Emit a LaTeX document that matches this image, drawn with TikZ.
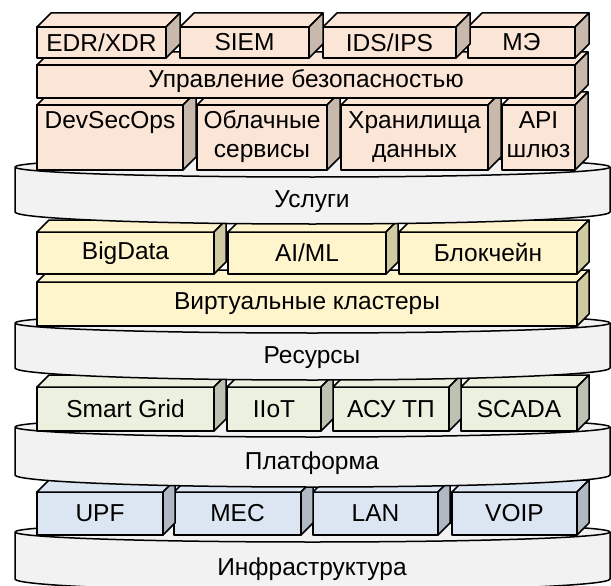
\documentclass[tikz,border=0pt]{standalone}
\usepackage{fontspec}
\setmainfont{Liberation Sans}
\definecolor{pkF}{HTML}{FBE5D6}
\definecolor{pkS}{HTML}{C9B8AC}
\definecolor{ylF}{HTML}{FFF5CD}
\definecolor{ylS}{HTML}{CFCAA2}
\definecolor{grF}{HTML}{EBF1DE}
\definecolor{grS}{HTML}{BCC2B2}
\definecolor{blF}{HTML}{DCE6F2}
\definecolor{blS}{HTML}{AFB8C3}
\definecolor{cylF}{HTML}{F2F2F2}
\tikzset{
  frontface/.style={draw=black, line width=1.5pt, inner sep=0pt, outer sep=0pt,
    font=\fontsize{24.5}{29}\selectfont, align=center, line join=round},
  facestyle/.style={draw=black, line width=1.5pt, line join=round},
  disk/.style={draw=black, line width=1.5pt, fill=cylF, line join=round},
  diskline/.style={draw=black, line width=1.5pt},
  disklabel/.style={font=\fontsize{24.5}{29}\selectfont, inner sep=0pt}
}
\newcommand\twol[2]{\raisebox{-4pt}{\begin{tabular}{@{}c@{}}#1\\#2\end{tabular}}}
% name, x1, y1, x2, y2, front colour, side colour, depth, text
\newcommand\cub[9]{%
  \node[frontface, fill=#6, minimum width={#4pt-#2pt}, minimum height={#5pt-#3pt}]
    (#1) at ({(#2+#4)/2},{(#3+#5)/2}) {#9};
  \filldraw[facestyle, fill=#6] (#1.north west) -- ++(#8,-#8) -- ([shift={(#8,-#8)}]#1.north east) -- (#1.north east) -- cycle;
  \filldraw[facestyle, fill=#7] (#1.north east) -- ++(#8,-#8) -- ([shift={(#8,-#8)}]#1.south east) -- (#1.south east) -- cycle;
}
% name, top, bottom, label, label y
\newcommand\disk[5]{%
  \filldraw[disk] (15,#2) -- (15,#3) arc[start angle=180, end angle=0, x radius=297.5, y radius=12]
    -- (610,#2) arc[start angle=0, end angle=-180, x radius=297.5, y radius=10] -- cycle;
  \draw[diskline] (15,#2) arc[start angle=180, end angle=0, x radius=297.5, y radius=10];
  \node[disklabel] (#1) at (312,#5) {#4};
}
\begin{document}
\begin{tikzpicture}[x=1pt, y=-1pt]
\useasboundingbox (0,0) rectangle (611,586);
% Infrastructure
\disk{infra}{532}{579}{Инфраструктура}{569}
\cub{voip}{452}{492}{577}{535}{blF}{blS}{12}{VOIP}
\cub{lan}{313}{492}{438}{535}{blF}{blS}{12}{LAN}
\cub{mec}{174}{492}{301}{535}{blF}{blS}{12}{MEC}
\cub{upf}{37}{492}{163}{535}{blF}{blS}{12}{UPF}
% Platform
\disk{platf}{427}{475}{Платформа}{463}
\cub{scada}{461}{387}{577}{431}{grF}{grS}{12}{SCADA}
\cub{asutp}{333}{387}{449}{431}{grF}{grS}{12}{АСУ ТП}
\cub{iiot}{227}{387}{321}{431}{grF}{grS}{12}{IIoT}
\cub{sgrid}{37}{387}{214}{431}{grF}{grS}{12}{Smart Grid}
% Resources
\disk{res}{323}{368}{Ресурсы}{358}
\cub{vclust}{37}{282}{577}{326}{ylF}{ylS}{12}{Виртуальные кластеры}
\cub{block}{399}{232}{577}{274}{ylF}{ylS}{12}{Блокчейн}
\cub{aiml}{228}{232}{386}{274}{ylF}{ylS}{12}{AI/ML}
\cub{bigdata}{37}{232}{214}{274}{ylF}{ylS}{12}{BigData}
% Services
\disk{serv}{167}{212}{Услуги}{202}
\cub{api}{502}{105}{575}{170}{pkF}{pkS}{13}{\twol{API}{шлюз}}
\cub{stor}{341}{105}{488}{170}{pkF}{pkS}{13}{\twol{Хранилища}{данных}}
\cub{cloud}{197}{105}{327}{170}{pkF}{pkS}{13}{\twol{Облачные}{сервисы}}
\cub{devsec}{37}{105}{183}{170}{pkF}{pkS}{13}{\twol{DevSecOps}{\mbox{}}}
\cub{secman}{37}{65}{575}{98}{pkF}{pkS}{13}{Управление безопасностью}
\cub{me}{468}{27}{575}{58}{pkF}{pkS}{14}{МЭ}
\cub{ids}{323}{27}{456}{58}{pkF}{pkS}{14}{IDS/IPS}
\cub{siem}{180}{27}{309}{58}{pkF}{pkS}{14}{SIEM}
\cub{edr}{37}{27}{166}{58}{pkF}{pkS}{14}{EDR/XDR}
\end{tikzpicture}
\end{document}
